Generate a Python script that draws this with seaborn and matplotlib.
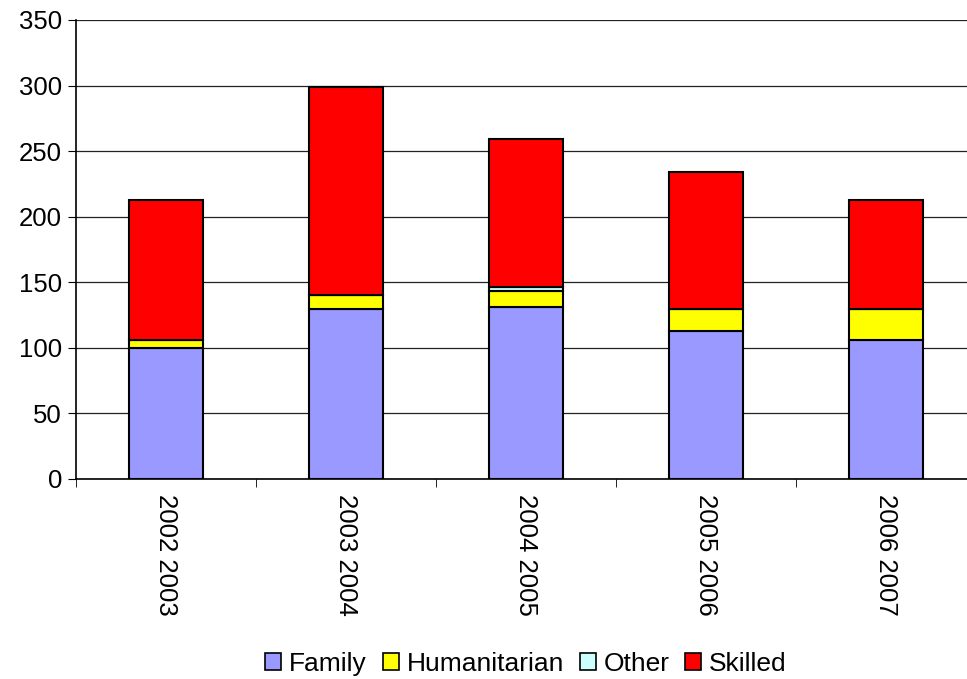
import numpy as np
import pandas as pd
import matplotlib
matplotlib.use('Agg')
import matplotlib.pyplot as plt
import seaborn as sns
from matplotlib.patches import Patch

# values
years = ['2002 2003', '2003 2004', '2004 2005', '2005 2006', '2006 2007']
family = [100, 130, 131, 113, 106]
humanitarian = [6, 10, 12.5, 17, 24]
other = [0, 0, 3, 0, 0]
skilled = [107, 159, 113, 104, 83]

series = ['Family', 'Humanitarian', 'Other', 'Skilled']
colors = ['#9999FF', '#FFFF00', '#CCFFFF', '#FF0000']

sns.set_style('white')
plt.rcParams['font.family'] = ['Liberation Sans', 'DejaVu Sans']
plt.rcParams['text.color'] = 'black'
plt.rcParams['xtick.color'] = 'black'
plt.rcParams['ytick.color'] = 'black'

df = pd.DataFrame({'Year': years, 'Family': family, 'Humanitarian': humanitarian,
                   'Other': other, 'Skilled': skilled})

fig = plt.figure(figsize=(9.67, 6.79), dpi=100)
ax = fig.add_axes([76 / 967, 200 / 679, 1 - 76 / 967, 459 / 679])

bottom = np.zeros(len(years))
for name, col in zip(series, colors):
    vals = df[name].to_numpy(dtype=float)
    sns.barplot(x=df['Year'], y=vals, bottom=bottom, color=col, width=0.41,
                edgecolor='black', linewidth=1.5, ax=ax, saturation=1, zorder=3)
    bottom = bottom + vals

ax.set_ylim(0, 350)
ax.set_xlim(-0.5, 4.45)
ax.set_yticks(range(0, 351, 50))
ax.yaxis.grid(True, color='#222222', linewidth=0.9)
ax.set_axisbelow(True)
ax.set_xlabel('')
ax.set_ylabel('')

for s in ['top', 'right']:
    ax.spines[s].set_visible(False)
for s in ['left', 'bottom']:
    ax.spines[s].set_color('black')
    ax.spines[s].set_linewidth(1.2)

ax.tick_params(axis='y', which='major', left=True, length=6, color='black',
               labelsize=18.5, pad=4)
ax.tick_params(axis='x', which='major', bottom=False, labelsize=18.5, pad=7)
ax.set_xticks(np.arange(-0.5, 4.5, 1), minor=True)
ax.tick_params(axis='x', which='minor', bottom=True, length=6, color='black')
for lbl in ax.get_xticklabels():
    lbl.set_rotation(270)
    lbl.set_va('top')
    lbl.set_ha('center')

handles = [Patch(facecolor=c, edgecolor='black', linewidth=1.2, label=n)
           for n, c in zip(series, colors)]
fig.legend(handles=handles, loc='lower center', bbox_to_anchor=(526 / 967, -0.03),
           ncol=4, frameon=False, fontsize=19, handlelength=0.6, handleheight=0.6,
           handletextpad=0.3, columnspacing=0.6)

fig.savefig('out.png', dpi=100)
